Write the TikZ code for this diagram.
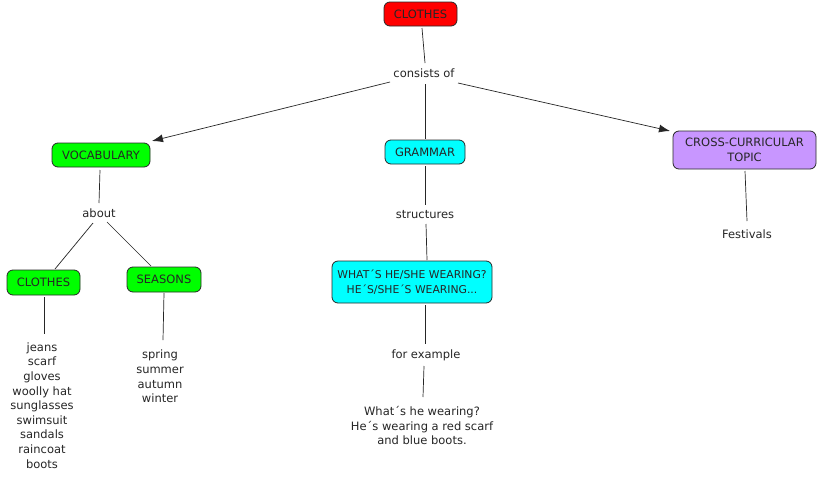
\documentclass[tikz,border=0pt]{standalone}
\usepackage{fontspec}
\setmainfont{DejaVu Sans}
\usetikzlibrary{arrows.meta}
\definecolor{cred}{RGB}{255,0,0}
\definecolor{cgreen}{RGB}{0,255,0}
\definecolor{ccyan}{RGB}{0,255,255}
\definecolor{cpurple}{RGB}{200,150,255}
\definecolor{cborder}{RGB}{40,40,40}
\begin{document}
\begin{tikzpicture}[x=1pt,y=-1pt,
  font=\fontsize{11.5}{14.6}\selectfont,
  concept/.style={draw=cborder, line width=0.8pt, rounded corners=6pt, align=center, inner sep=0pt, text=black!85},
  lbl/.style={align=center, inner sep=0pt, outer sep=0pt, text=black!85},
  link/.style={draw=black!85, line width=0.7pt},
  arr/.style={link, -{Latex[length=11pt,width=8pt]}}
]
\useasboundingbox[fill=white] (0,0) rectangle (818,482);
% concepts
\node[concept, fill=cred, minimum width=73pt, minimum height=24pt] (clothes) at (420.5,14) {CLOTHES};
\node[concept, fill=cgreen, minimum width=98pt, minimum height=24pt] (vocab) at (101,155) {VOCABULARY};
\node[concept, fill=ccyan, minimum width=80pt, minimum height=24pt] (grammar) at (425,152) {GRAMMAR};
\node[concept, fill=cpurple, minimum width=143pt, minimum height=38pt] (cross) at (744.5,150) {CROSS-CURRICULAR\\TOPIC};
\node[concept, fill=cgreen, minimum width=73pt, minimum height=25pt] (clothes2) at (43.5,282.5) {CLOTHES};
\node[concept, fill=cgreen, minimum width=74pt, minimum height=25pt] (seasons) at (164,279.5) {SEASONS};
\node[concept, fill=ccyan, minimum width=160pt, minimum height=42pt, font=\fontsize{10.8}{14.6}\selectfont] (what) at (412,282) {WHAT´S HE/SHE WEARING?\\HE´S/SHE´S WEARING...};
% labels
\node[lbl] (consists) at (424,73) {consists of};
\node[lbl] (about) at (99,213.5) {about};
\node[lbl] (structures) at (425,214.5) {structures};
\node[lbl] (festivals) at (747,234.5) {Festivals};
\node[lbl] (forex) at (426,355) {for example};
\node[lbl] (clist) at (42,405.5) {jeans\\scarf\\gloves\\woolly hat\\sunglasses\\swimsuit\\sandals\\raincoat\\boots};
\node[lbl] (slist) at (160,376.5) {spring\\summer\\autumn\\winter};
\node[lbl] (example) at (422,425.5) {What´s he wearing?\\He´s wearing a red scarf\\and blue boots.};
% connectors
\coordinate (c1) at (422,28);
\coordinate (c2) at (425,63);
\draw[link] (c1) -- (c2);
\coordinate (v1) at (390,82);
\coordinate (v2) at (152,141);
\draw[arr] (v1) -- (v2);
\coordinate (g1) at (425,84);
\coordinate (g2) at (425,139);
\draw[link] (g1) -- (g2);
\coordinate (x1) at (458,83);
\coordinate (x2) at (670,131);
\draw[arr] (x1) -- (x2);
\coordinate (a1) at (100,170);
\coordinate (a2) at (99,203);
\draw[link] (a1) -- (a2);
\coordinate (a3) at (93,223);
\coordinate (a4) at (55,269);
\draw[link] (a3) -- (a4);
\coordinate (a5) at (107,222);
\coordinate (a6) at (151,266);
\draw[link] (a5) -- (a6);
\coordinate (l1) at (44,297);
\coordinate (l2) at (44,334);
\draw[link] (l1) -- (l2);
\coordinate (s1) at (164,293);
\coordinate (s2) at (163,340);
\draw[link] (s1) -- (s2);
\coordinate (st1) at (425,166);
\coordinate (st2) at (425,205);
\draw[link] (st1) -- (st2);
\coordinate (st3) at (426,224);
\coordinate (st4) at (427,260);
\draw[link] (st3) -- (st4);
\coordinate (w1) at (425,305);
\coordinate (w2) at (425,344);
\draw[link] (w1) -- (w2);
\coordinate (e1) at (424,366);
\coordinate (e2) at (423,397);
\draw[link] (e1) -- (e2);
\coordinate (f1) at (745,171);
\coordinate (f2) at (747,221);
\draw[link] (f1) -- (f2);
\end{tikzpicture}
\end{document}
